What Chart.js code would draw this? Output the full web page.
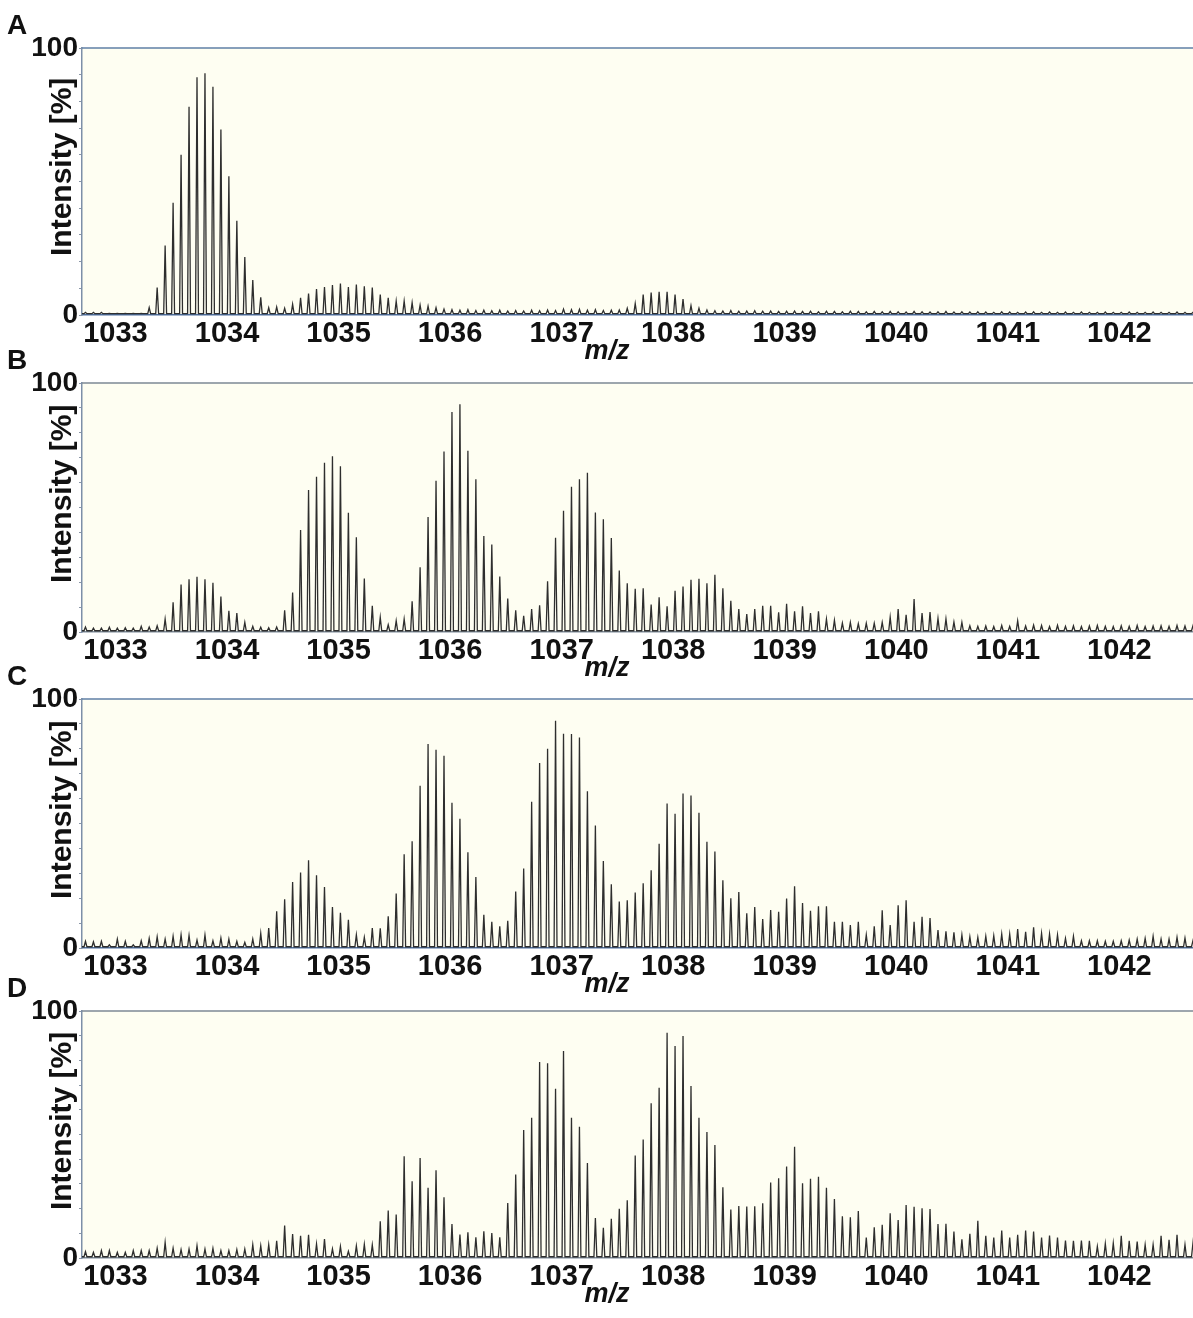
<!DOCTYPE html>
<html>
<head>
<meta charset="utf-8">
<title>Mass spectra A-D</title>
<script src="https://cdn.jsdelivr.net/npm/chart.js@4.4.1/dist/chart.umd.min.js"></script>
<style>
    body {
        margin: 0;
        width: 1193px;
        height: 1318px;
        position: relative;
        overflow: hidden;
        background: #ffffff;
    }
    .panel {
        position: absolute;
        left: 0;
    }
</style>
</head>
<body>
<div class="panel" id="wrap-a"><canvas id="spectrum-a"></canvas></div>
<div class="panel" id="wrap-b"><canvas id="spectrum-b"></canvas></div>
<div class="panel" id="wrap-c"><canvas id="spectrum-c"></canvas></div>
<div class="panel" id="wrap-d"><canvas id="spectrum-d"></canvas></div>
<script>
// x axis (m/z)
const xTickValues = [1033, 1034, 1035, 1036, 1037, 1038, 1039, 1040, 1041, 1042];
const xMin = 1032.70;
const xMax = 1042.66;

// isotope envelope: first peak m/z and charge state (peaks every 1/z)
const firstPeakMz = 1032.731;
const chargeState = 14;

// peak heights in % (one value per isotope peak, 140 peaks)
const peaksA = [
    1, 1, 1, 0.6, 0.6, 0.6, 0.6, 0.6, 2.8, 10.3,
    26, 42, 60, 78, 89, 90.5, 85.5, 69.5, 52, 35.3,
    21.7, 13.1, 6.6, 2.7, 3, 2.5, 4, 6.4, 8, 9.7,
    10.5, 11.2, 11.8, 10.5, 11.4, 10.8, 10.3, 7.7, 6.4, 5.2,
    5.2, 4.6, 3.7, 3.3, 2.7, 2.2, 2, 1.8, 2, 1.7,
    1.8, 1.6, 1.8, 1.5, 1.7, 1.5, 1.8, 1.6, 1.9, 1.7,
    2.2, 2, 2.1, 1.8, 2, 1.7, 1.8, 1.9, 2.5, 4.3,
    7.7, 8.4, 8.7, 8.7, 7.7, 6, 3.5, 2.5, 1.9, 1.6,
    1.5, 1.7, 1.4, 1.5, 1.6, 1.4, 1.5, 1.3, 1.4, 1.5,
    1.3, 1.4, 1.2, 1.4, 1.3, 1.2, 1.4, 1.3, 1.2, 1.3,
    1.2, 1.3, 1.2, 1.1, 1.3, 1.2, 1.1, 1.2, 1.3, 1.1,
    1.2, 1.1, 1.2, 1.1, 1.0, 1.2, 1.1, 1.0, 1.1, 1.2,
    1.0, 1.1, 1.0, 1.1, 1.0, 1.1, 1.0, 1.0, 1.1, 1.0,
    1.0, 1.1, 1.0, 1.0, 1.1, 1.0, 1.0, 1.1, 1.0, 1.0
];

const peaksB = [
    2, 1.6, 1.6, 1.9, 1.6, 1.7, 1.6, 2.3, 2, 2.5,
    5.2, 11.9, 19.1, 21.2, 22.2, 21.2, 19.8, 14.2, 8.5, 7.6,
    3.9, 2.3, 1.9, 1.7, 2, 8.7, 15.9, 41, 57, 62.3,
    68, 70.6, 66.6, 47.9, 38, 21.5, 10.5, 5.9, 2.9, 4.5,
    5.2, 12.3, 26, 46.2, 60.7, 72.5, 88.4, 91.5, 72.8, 61.3,
    38.6, 35.1, 22.3, 13.4, 8.7, 6.5, 9.2, 10.7, 20.4, 37.8,
    48.7, 58.3, 61.3, 64, 48, 45.3, 37.7, 24.7, 19.6, 17.4,
    17.6, 11, 13.9, 10.3, 16.6, 18.3, 21, 21.4, 19.6, 23,
    17.6, 12.5, 9.2, 7.2, 9.2, 10.5, 10.5, 7.9, 11.3, 8.3,
    10.3, 7.6, 8.3, 5.2, 4.7, 3.6, 3.9, 3.3, 3.5, 3.5,
    3.9, 6, 9.2, 6.9, 13.2, 7.6, 8, 5.5, 5.3, 4,
    3.9, 2.5, 2.3, 2.4, 2.2, 2.6, 2.3, 4.5, 2.4, 2.8,
    2.6, 2.2, 2.7, 2.3, 2.5, 2.2, 2.4, 2.6, 2.3, 2.2,
    2.5, 2.3, 2.6, 2.2, 2.4, 2.5, 2.3, 2.6, 2.4, 2.5
];

const peaksC = [
    2.7, 2.5, 2.7, 1.3, 3.6, 2.7, 1.3, 2.9, 3.9, 4.5,
    3.6, 4.7, 5.3, 5.1, 3.2, 5.2, 2.9, 4, 3.6, 2.7,
    2.3, 3.6, 5.9, 8, 14.7, 19.6, 26.5, 30.3, 35.2, 29.2,
    24.5, 16.5, 14.1, 11.3, 5.3, 4.3, 8, 7.9, 12.7, 21.9,
    37.6, 42.9, 65.2, 81.9, 79.6, 77.2, 58.3, 51.9, 38.5, 28.5,
    13.3, 10.5, 8.7, 10.9, 22.7, 31.9, 58.7, 74.3, 80, 91.3,
    86, 85.9, 84.5, 62.9, 49.2, 34.9, 25.6, 18.7, 19.2, 22.3,
    26, 31.2, 41.9, 58, 53.9, 62, 61.2, 54.3, 42.7, 38.8,
    27.2, 20, 22.5, 13.9, 16.5, 11.6, 15.3, 14.5, 19.9, 24.8,
    18.1, 14.9, 16.8, 16.8, 10.5, 10.5, 9.2, 10.5, 5.3, 8.7,
    15.2, 9.2, 17.2, 19.2, 10.5, 12.5, 12, 7.2, 6.7, 6.3,
    5.3, 4.5, 4.3, 4.7, 4.9, 5.6, 5.6, 7.6, 6.5, 8.3,
    5.9, 5.6, 5.3, 3.9, 4.7, 2.9, 2.9, 2.9, 2.7, 2.7,
    2.9, 3.2, 3.6, 3.9, 4.7, 3.6, 3.6, 4.3, 4, 2.9
];

const peaksD = [
    2.6, 2.3, 3, 3, 2.3, 2.3, 3, 3, 3, 4,
    6.3, 4, 3.4, 3.6, 5, 3.6, 3.9, 3, 3, 3.4,
    3.6, 5.4, 5, 5.4, 7, 13.1, 9.7, 9, 9.4, 5.7,
    7.7, 3.7, 4.7, 2.7, 4.9, 5.5, 5.3, 14.9, 19.2, 17.6,
    41.2, 31.1, 40.5, 28.4, 35.5, 24.6, 13.8, 9.5, 10.4, 8.4,
    10.8, 10.1, 8.4, 22.3, 33.8, 51.8, 56.8, 79.3, 78.8, 68.5,
    83.8, 56.8, 53.1, 38.5, 16.2, 12.2, 15.9, 19.9, 23.4, 41.5,
    48, 62.6, 68.9, 91.2, 85.8, 89.9, 69.6, 56.8, 51, 45.7,
    28.6, 19.6, 21, 20.8, 20.9, 22.2, 30.6, 32.3, 37, 45,
    30.3, 32.1, 32.9, 28.4, 23.9, 16.9, 16.5, 19, 8.3, 12.4,
    13.4, 18.1, 15.4, 21.4, 20.7, 20.1, 19.8, 13.8, 13.9, 10.7,
    7.6, 9.8, 15.1, 9, 8.3, 11.1, 8.3, 9.4, 11.1, 10.7,
    8.3, 9.1, 8.3, 7.1, 7, 7.1, 7, 4.7, 5.8, 6,
    9, 7, 6.7, 5.4, 5.4, 9, 7.4, 9.4, 5.4, 6
];

const fontFamily = '"Liberation Sans", Arial, sans-serif';
const baseLevel = 0.5;
const peakHalfWidth = 0.013;

// page layout of each panel: where the plot box sits on the page
const panels = [
    { wrap: 'wrap-a', canvas: 'spectrum-a', letter: 'A', peaks: peaksA, plotTop: 48, plotBottom: 315, frameColor: '#5f7fa6', axisColor: '#4d6f9f' },
    { wrap: 'wrap-b', canvas: 'spectrum-b', letter: 'B', peaks: peaksB, plotTop: 383, plotBottom: 632, frameColor: '#7d8894', axisColor: '#7f8c99' },
    { wrap: 'wrap-c', canvas: 'spectrum-c', letter: 'C', peaks: peaksC, plotTop: 699, plotBottom: 948, frameColor: '#5f7fa6', axisColor: '#4d6f9f' },
    { wrap: 'wrap-d', canvas: 'spectrum-d', letter: 'D', peaks: peaksD, plotTop: 1011, plotBottom: 1258, frameColor: '#7d8894', axisColor: '#7f8c99' }
];

const TOP_SPACE = 48;
const X_AXIS_HEIGHT = 58;
const Y_AXIS_WIDTH = 82;

function buildTrace (heights) {
    const points = [{ x: xMin, y: baseLevel }];

    heights.forEach((h, k) => {
        const mz = firstPeakMz + k / chargeState;
        points.push({ x: mz - peakHalfWidth, y: baseLevel });
        points.push({ x: mz, y: h });
        points.push({ x: mz + peakHalfWidth, y: baseLevel });
    });

    points.push({ x: xMax, y: baseLevel });
    return points;
}

// background, frame line and the free text of a panel
const panelDecor = {
    id: 'panelDecor',
    beforeDraw (chart) {
        const { ctx, chartArea } = chart;
        ctx.save();
        ctx.fillStyle = '#fefef2';
        ctx.fillRect(chartArea.left, chartArea.top, chartArea.right - chartArea.left, chartArea.bottom - chartArea.top);
        ctx.restore();
    },
    afterDraw (chart, args, opts) {
        const { ctx, chartArea } = chart;
        const h = chartArea.bottom - chartArea.top;
        ctx.save();

        // top frame line
        ctx.strokeStyle = opts.frameColor;
        ctx.lineWidth = 1.5;
        ctx.beginPath();
        ctx.moveTo(chartArea.left, chartArea.top);
        ctx.lineTo(chartArea.right, chartArea.top);
        ctx.stroke();

        ctx.fillStyle = '#111111';

        // panel letter
        ctx.font = 'bold 28px ' + fontFamily;
        ctx.textAlign = 'left';
        ctx.textBaseline = 'middle';
        ctx.fillText(opts.letter, 7, chartArea.top - 22);

        // y axis title
        ctx.save();
        ctx.translate(63, chartArea.top + h * 0.445);
        ctx.rotate(-Math.PI / 2);
        ctx.font = 'bold 30px ' + fontFamily;
        ctx.textAlign = 'center';
        ctx.fillText('Intensity [%]', 0, 0);
        ctx.restore();

        // x axis title
        ctx.font = 'italic bold 27px ' + fontFamily;
        ctx.textAlign = 'center';
        ctx.fillText('m/z', 607, chartArea.bottom + 37);

        ctx.restore();
    }
};

function drawPanel (panel) {
    const plotHeight = panel.plotBottom - panel.plotTop;
    const wrap = document.getElementById(panel.wrap);
    const canvas = document.getElementById(panel.canvas);
    const height = TOP_SPACE + plotHeight + X_AXIS_HEIGHT;

    wrap.style.top = (panel.plotTop - TOP_SPACE) + 'px';
    canvas.width = 1193;
    canvas.height = height;
    canvas.style.width = '1193px';
    canvas.style.height = height + 'px';

    new Chart(canvas, {
        type: 'line',
        data: {
            datasets: [
                {
                    data: buildTrace(panel.peaks),
                    borderColor: '#2e2e2e',
                    borderWidth: 1.3,
                    pointRadius: 0,
                    tension: 0,
                    fill: false
                }
            ]
        },
        options: {
            responsive: false,
            maintainAspectRatio: false,
            animation: false,
            events: [],
            devicePixelRatio: 1,
            layout: {
                padding: { top: TOP_SPACE, left: 0, right: 0, bottom: 0 }
            },
            scales: {
                x: {
                    type: 'linear',
                    min: xMin,
                    max: xMax,
                    afterBuildTicks: scale => {
                        scale.ticks = xTickValues.map(value => ({ value }));
                    },
                    afterFit: scale => {
                        scale.height = X_AXIS_HEIGHT;
                    },
                    ticks: {
                        autoSkip: false,
                        maxRotation: 0,
                        padding: 2,
                        color: '#111111',
                        font: { family: fontFamily, size: 29, weight: 'bold' },
                        callback: value => String(value)
                    },
                    grid: { drawOnChartArea: false, drawTicks: false },
                    border: { color: panel.axisColor, width: 1.5 }
                },
                y: {
                    min: 0,
                    max: 100,
                    afterFit: scale => {
                        scale.width = Y_AXIS_WIDTH;
                    },
                    ticks: {
                        stepSize: 10,
                        autoSkip: false,
                        padding: 1,
                        color: '#111111',
                        font: { family: fontFamily, size: 28, weight: 'bold' },
                        callback: value => (value === 0 || value === 100) ? String(value) : ''
                    },
                    grid: { drawOnChartArea: false, drawTicks: true, tickLength: 3, tickColor: '#8a96a6' },
                    border: { color: '#7d8fa8', width: 1.5 }
                }
            },
            plugins: {
                legend: { display: false },
                tooltip: { enabled: false },
                panelDecor: { letter: panel.letter, frameColor: panel.frameColor }
            }
        },
        plugins: [panelDecor]
    });
}

panels.forEach(drawPanel);
</script>
</body>
</html>
